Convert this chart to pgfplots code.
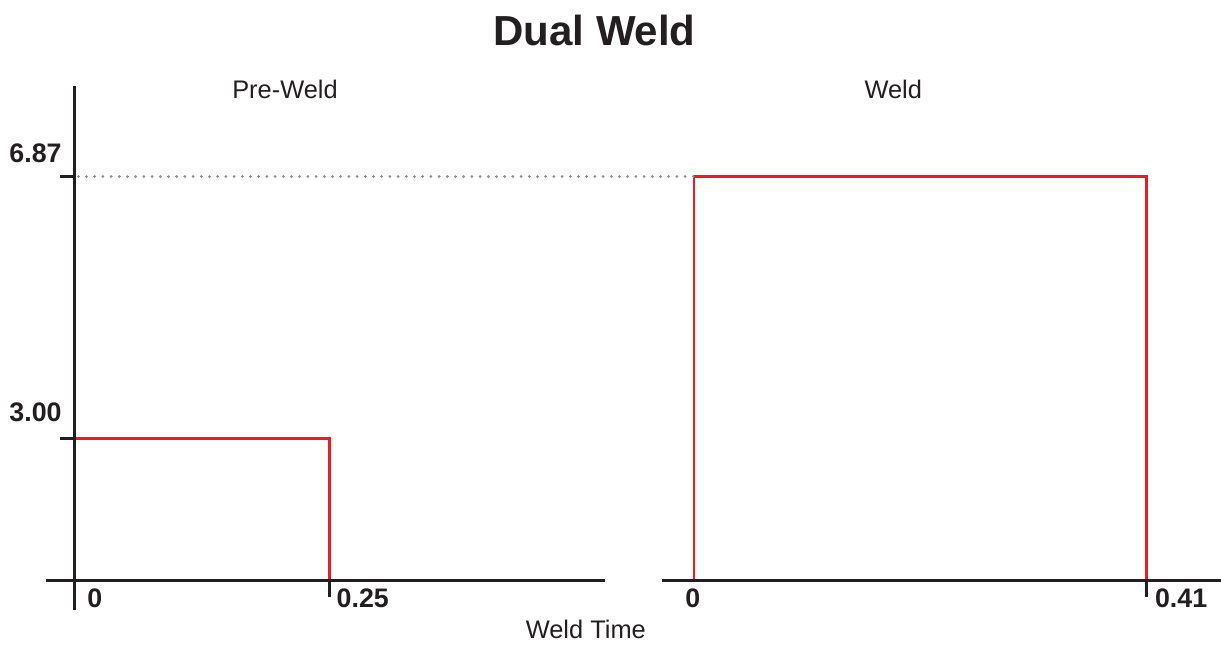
\documentclass[border=0pt]{standalone}
\usepackage{pgfplots}
\pgfplotsset{compat=1.18}
\usepackage{fontspec}
\setmainfont{Liberation Sans}
\definecolor{ink}{RGB}{35,31,32}
\definecolor{weldred}{RGB}{237,28,36}
\definecolor{guide}{RGB}{140,140,140}
\begin{document}
\begin{tikzpicture}
\useasboundingbox (0,0) rectangle (610.5pt,-322pt);
\pgfplotsset{panel/.style={scale only axis, hide axis, anchor=south west,
  height=247.25pt, ymin=0.898, ymax=8.208, clip mode=individual}}
\tikzset{axl/.style={ink, line width=1.25pt},
  tl/.style={inner sep=0pt, text=ink, font=\bfseries\fontsize{13.4}{16}\selectfont}}
% Pre-Weld panel
\begin{axis}[panel, at={(22.85pt,-290.25pt)}, width=279.65pt, xmin=-0.02804, xmax=0.52029]
\addplot[weldred, line width=1.4pt] coordinates {(0,3.00) (0.25,3.00) (0.25,0)};
\coordinate (g0) at (axis cs:0,6.87);
\draw[axl] (rel axis cs:0,0) -- (rel axis cs:1,0);
\draw[axl] (axis cs:0,8.208) -- ++(0pt,-262pt);
\draw[axl] (axis cs:0,6.87) -- ++(-7.2pt,0pt);
\draw[axl] (axis cs:0,3.00) -- ++(-7.2pt,0pt);
\draw[axl] (axis cs:0.25,0.898) -- ++(0pt,-8.25pt);
\node[tl, anchor=base east] at ([shift={(-6.15pt,7.2pt)}]axis cs:0,6.87) {6.87};
\node[tl, anchor=base east] at ([shift={(-6.15pt,8.3pt)}]axis cs:0,3.00) {3.00};
\node[tl, anchor=base west] at ([shift={(6.3pt,-13.25pt)}]axis cs:0,0.898) {0};
\node[tl, anchor=base west] at ([shift={(3.5pt,-13.25pt)}]axis cs:0.25,0.898) {0.25};
\end{axis}
% Weld panel
\begin{axis}[panel, at={(331.15pt,-290.25pt)}, width=279.35pt, xmin=-0.02871, xmax=0.47731]
\addplot[weldred, line width=1.4pt] coordinates {(0,0) (0,6.87) (0.41,6.87) (0.41,0)};
\coordinate (g1) at (axis cs:0,6.87);
\draw[axl] (rel axis cs:0,0) -- (rel axis cs:1,0);
\draw[axl] (axis cs:0.41,0.898) -- ++(0pt,-8.25pt);
\node[tl, anchor=base] at ([shift={(-0.65pt,-13.25pt)}]axis cs:0,0.898) {0};
\node[tl, anchor=base west] at ([shift={(4pt,-13.25pt)}]axis cs:0.41,0.898) {0.41};
\end{axis}
\draw[guide, line width=1.5pt, line cap=round, dash pattern=on 0pt off 4.1pt] ([xshift=2pt]g0) -- (g1);
\node[anchor=base, inner sep=0pt, text=ink, font=\bfseries\fontsize{21}{25}\selectfont] at (297.25pt,-22.5pt) {Dual Weld};
\node[anchor=base, inner sep=0pt, text=ink, font=\fontsize{12.7}{15}\selectfont] at (142.5pt,-49.15pt) {Pre-Weld};
\node[anchor=base, inner sep=0pt, text=ink, font=\fontsize{12.7}{15}\selectfont] at (446.65pt,-49pt) {Weld};
\node[anchor=base, inner sep=0pt, text=ink, font=\fontsize{12.7}{15}\selectfont] at (292.9pt,-319pt) {Weld Time};
\end{tikzpicture}
\end{document}
